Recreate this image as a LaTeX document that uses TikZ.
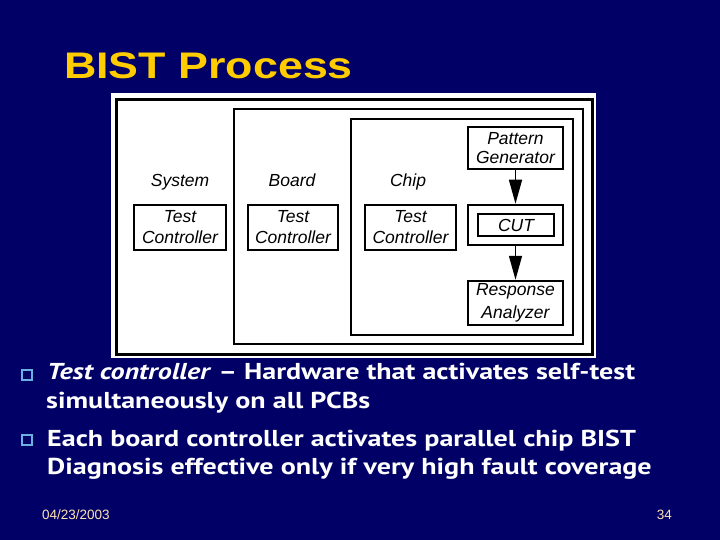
\documentclass[tikz,border=0pt]{standalone}
\usepackage{fontspec}
\usepackage{graphicx}
\usepackage{tikz}
\usetikzlibrary{arrows.meta, positioning, calc}
\newfontfamily\diagfont{Liberation Sans}
\newfontfamily\slidefont[FakeStretch=1.22]{PT Sans}
\definecolor{slidenavy}{RGB}{0,0,102}
\definecolor{titleyellow}{RGB}{255,204,0}
\definecolor{footbeige}{RGB}{255,228,180}
\definecolor{bulletblue}{RGB}{110,175,225}

\begin{document}
\begin{tikzpicture}[x=1pt, y=-1pt,
  frame/.style={draw, rectangle, line width=2.5pt, inner sep=0pt},
  block/.style={draw, rectangle, line width=2pt, align=center, inner sep=0pt,
    font=\diagfont\itshape\fontsize{17.5}{21}\selectfont},
  lvl/.style={anchor=base, inner sep=0pt, font=\diagfont\itshape\fontsize{17.5}{21}\selectfont},
  flow/.style={line width=1.5pt, -{Triangle[length=24pt,width=13pt]}},
  bullettext/.style={anchor=base west, text=white, inner sep=0pt,
    font=\slidefont\bfseries\fontsize{23}{28}\selectfont},
  sqbullet/.style={draw=bulletblue, line width=2pt, minimum size=10pt, inner sep=0pt, fill=slidenavy},
  foot/.style={text=footbeige, inner sep=0pt, font=\diagfont\fontsize{13.5}{16}\selectfont}]
  \useasboundingbox (0,0) rectangle (720,540);
  \fill[slidenavy] (0,0) rectangle (720,540);

  % Title
  \node[anchor=base west, inner sep=0pt, text=titleyellow, font=\diagfont\bfseries\fontsize{37}{44}\selectfont]
    (title) at (64,79) {\scalebox{1.21}[1]{BIST Process}};

  % Picture panel
  \fill[white] (111,93) rectangle (596,358);
  \node[frame, line width=3pt, minimum width=476pt, minimum height=254pt] (sysbox) at (354,227) {};
  \node[frame, minimum width=349pt, minimum height=235pt] (boardbox) at (408.5,226.5) {};
  \node[frame, minimum width=222pt, minimum height=216pt] (chipbox) at (462,227) {};

  % Level labels
  \node[lvl] (syslbl) at (180,187) {System};
  \node[lvl] (boardlbl) at (292,187) {Board};
  \node[lvl] (chiplbl) at (408,187) {Chip};

  % Test controllers
  \node[block, minimum width=92pt, minimum height=45pt] (systc) at (180,227.5) {Test\\Controller};
  \node[block, minimum width=90pt, minimum height=45pt] (boardtc) at (293,227.5) {Test\\Controller};
  \node[block, minimum width=91pt, minimum height=45pt] (chiptc) at (410.5,227.5) {Test\\Controller};

  % BIST chain
  \node[block, line width=2.5pt, minimum width=95pt, minimum height=42pt,
    font=\diagfont\itshape\fontsize{17.5}{19}\selectfont] (patgen) at (515.5,148) {Pattern\\Generator};
  \node[block, line width=2.5pt, minimum width=95pt, minimum height=40pt] (cutbox) at (515.5,225) {};
  \node[block, minimum width=76pt, minimum height=22pt] (cut) at (516,225) {CUT};
  \node[block, line width=2.5pt, minimum width=95pt, minimum height=44pt,
    font=\diagfont\itshape\fontsize{17.5}{23}\selectfont] (respan) at (515.5,303) {Response\\Analyzer};
  \draw[flow] (patgen) -- (cutbox);
  \draw[flow] (cutbox) -- (respan);

  % Bullets
  \node[sqbullet] (b1) at (27,374.5) {};
  \node[sqbullet] (b2) at (27,440) {};
  \node[bullettext] (l1) at (47,379) {\itshape Test controller\/ \upshape– Hardware that activates self-test};
  \node[bullettext] (l2) at (46,408) {simultaneously on all PCBs};
  \node[bullettext] (l3) at (47,446) {Each board controller activates parallel chip BIST};
  \node[bullettext] (l4) at (47,474) {Diagnosis effective only if very high fault coverage};

  % Footer
  \node[foot, anchor=west] (date) at (42,515) {04/23/2003};
  \node[foot, anchor=east] (page) at (672,515) {34};
\end{tikzpicture}
\end{document}
